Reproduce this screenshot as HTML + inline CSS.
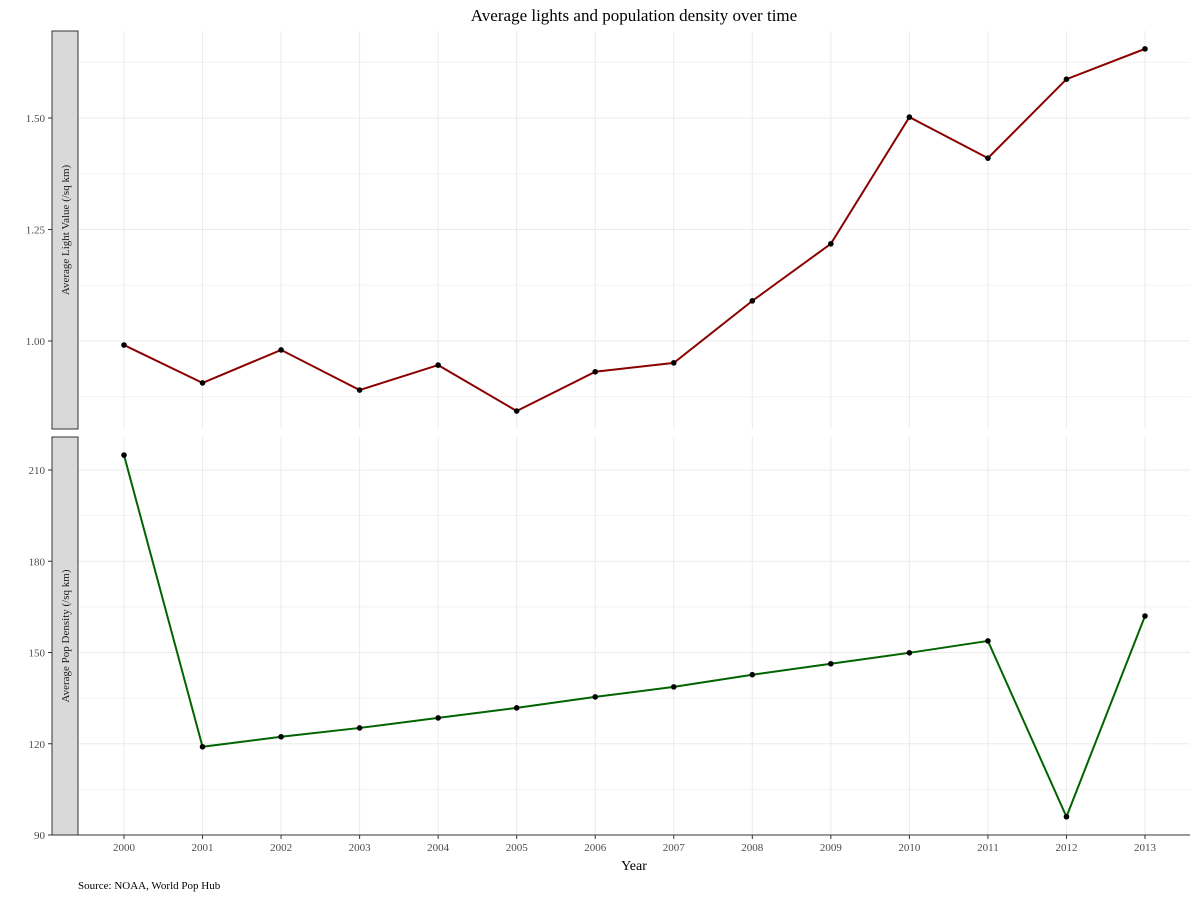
<!DOCTYPE html>
<html><head><meta charset="utf-8"><style>
body{margin:0;background:#fff;}
svg text{font-family:"Liberation Serif",serif;}
</style></head><body>
<svg id="chart" width="1200" height="900" xmlns="http://www.w3.org/2000/svg">
<text x="634" y="21" text-anchor="middle" font-size="17" fill="#000">Average lights and population density over time</text>
<text x="634" y="870" text-anchor="middle" font-size="14" fill="#000">Year</text>
<text x="78" y="889" font-size="11" fill="#000">Source: NOAA, World Pop Hub</text>
<g id="g"></g>
</svg>
<script>
const years=[2000,2001,2002,2003,2004,2005,2006,2007,2008,2009,2010,2011,2012,2013];
const lights=[0.991,0.906,0.980,0.890,0.946,0.843,0.931,0.951,1.090,1.218,1.502,1.410,1.587,1.655];
const pop=[214.9,119.0,122.3,125.2,128.5,131.8,135.4,138.7,142.7,146.3,149.9,153.8,96.0,162.0];
const lightTicks=[1.00,1.25,1.50];
const lightMinor=[0.875,1.125,1.375,1.625];
const popTicks=[90,120,150,180,210];
const popMinor=[105,135,165,195];
const NS='http://www.w3.org/2000/svg';
const g=document.getElementById('g');
function mk(t,a){const e=document.createElementNS(NS,t);for(const k in a)e.setAttribute(k,a[k]);g.appendChild(e);return e;}
const X=v=>124+(v-2000)*(1145-124)/13;
const Y1=v=>341-(v-1)*(111.5/0.25);
const Y2=v=>835-(v-90)*(91.25/30);
function panel(top,bot,Y,ticks,minor,fmt,data,color,label,nm){
  const pr=mk('rect',{x:78,y:top,width:1112,height:bot-top,fill:'#fff'});
  
  
  minor.forEach(v=>{const y=Y(v);if(y>top&&y<bot){const l=mk('line',{x1:78,x2:1190,y1:y,y2:y,stroke:'#f2f2f2','stroke-width':1});
    }});
  ticks.forEach(v=>{const y=Y(v);const l=mk('line',{x1:78,x2:1190,y1:y,y2:y,stroke:'#ebebeb','stroke-width':1});
    
    const tk=mk('line',{x1:48,x2:52,y1:y,y2:y,stroke:'#333'});
    
    const t=mk('text',{x:45,y:y+4,'text-anchor':'end','font-size':11,fill:'#4d4d4d'});t.textContent=fmt(v);
    });
  years.forEach(v=>{const l=mk('line',{x1:X(v),x2:X(v),y1:top,y2:bot,stroke:'#ebebeb'});
    });
  const s=mk('rect',{x:52,y:top,width:26,height:bot-top,fill:'#d9d9d9',stroke:'#333','stroke-width':1});
  
  const cy=(top+bot)/2;
  const st=mk('text',{x:69,y:cy,'text-anchor':'middle','font-size':11,fill:'#1a1a1a',transform:`rotate(-90 69 ${cy})`});st.textContent=label;
  
  const p=mk('polyline',{points:data.map((v,i)=>X(years[i])+','+Y(v)).join(' '),fill:'none',stroke:color,'stroke-width':2});
  
  data.forEach((v,i)=>{const c=mk('circle',{cx:X(years[i]),cy:Y(v),r:2.8,fill:'#000'});
    });
}
panel(31,429,Y1,lightTicks,lightMinor,v=>v.toFixed(2),lights,'#8b0000','Average Light Value (/sq km)','lights');
panel(437,835,Y2,popTicks,popMinor,v=>String(v),pop,'#006400','Average Pop Density (/sq km)','pop');
const ax=mk('line',{x1:78,x2:1190,y1:835,y2:835,stroke:'#333'});

years.forEach(v=>{const tk=mk('line',{x1:X(v),x2:X(v),y1:835,y2:839,stroke:'#333'});
  
  const t=mk('text',{x:X(v),y:851,'text-anchor':'middle','font-size':11,fill:'#4d4d4d'});t.textContent=v;
  });
</script>
</body></html>
